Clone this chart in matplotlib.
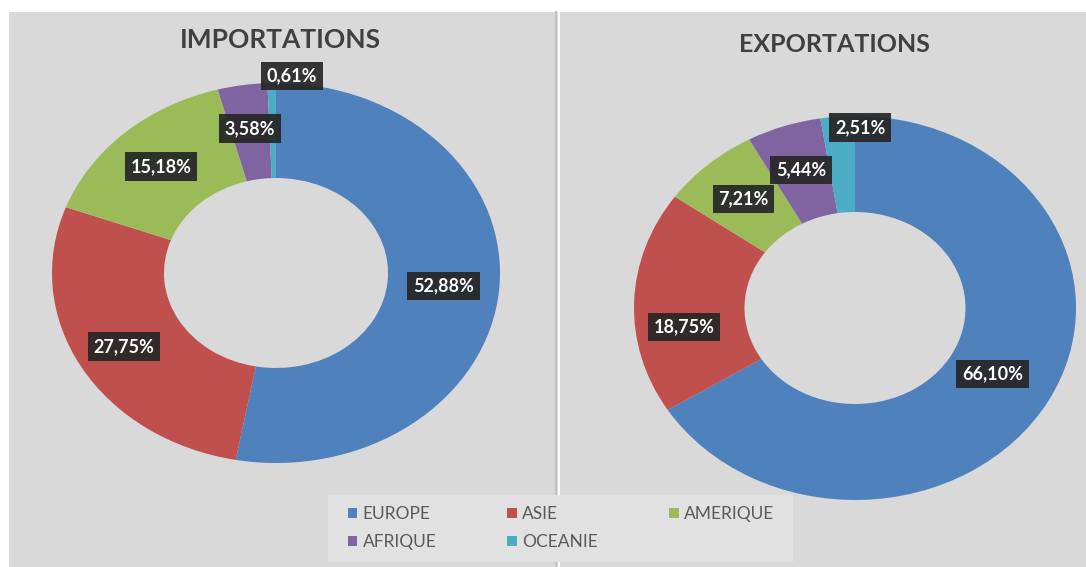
import matplotlib.pyplot as plt
from matplotlib.patches import Patch, Rectangle
from matplotlib.lines import Line2D
import numpy as np

# données (%)
regions = ["EUROPE", "ASIE", "AMERIQUE", "AFRIQUE", "OCEANIE"]
importations = [52.88, 27.75, 15.18, 3.58, 0.61]
exportations = [66.10, 18.75, 7.21, 5.44, 2.51]
colors = ["#4f81bd", "#c0504d", "#9bbb59", "#8064a2", "#4bacc6"]

W, H = 1086, 567
BG = "#d9d9d9"
FONT = "Lato"

fig = plt.figure(figsize=(W / 100, H / 100), dpi=100, facecolor="white")

# fond gris + séparateur entre les deux graphiques
fig.add_artist(Rectangle((9 / W, 0), 1, 1 - 12 / H, transform=fig.transFigure,
                         facecolor=BG, edgecolor="none", zorder=-3))
fig.add_artist(Line2D([556 / W, 556 / W], [0, 1 - 12 / H], transform=fig.transFigure,
                      color="#c2c2c2", lw=1.6, zorder=-2))
fig.add_artist(Line2D([558.5 / W, 558.5 / W], [0, 1 - 12 / H], transform=fig.transFigure,
                      color="white", lw=1.3, zorder=-2))


def donut(cx, cy, rx, ry, values, radii, nudges):
    ax = fig.add_axes([(cx - rx) / W, 1 - (cy + ry) / H, 2 * rx / W, 2 * ry / H])
    wedges, _ = ax.pie(values, colors=colors, startangle=90, counterclock=False,
                       radius=1, wedgeprops=dict(width=0.5, linewidth=0))
    ax.set_aspect("auto")
    ax.set_xlim(-1, 1)
    ax.set_ylim(-1, 1)
    ax.axis("off")
    for w, v, r, dt in zip(wedges, values, radii, nudges):
        a = np.deg2rad((w.theta1 + w.theta2) / 2 + dt)
        txt = ("%.2f%%" % v).replace(".", ",")
        ax.text(r * np.cos(a), r * np.sin(a), txt, ha="center", va="center",
                color="white", fontsize=13, fontweight="bold", family=FONT,
                bbox=dict(boxstyle="square,pad=0.32", fc="#262626", ec="none", alpha=0.92),
                zorder=5)
    return ax


donut(276, 273, 224, 190, importations,
      [0.75, 0.78, 0.76, 0.77, 1.04], [0, 0, 0, 0, -5])
donut(855, 308, 221, 192, exportations,
      [0.71, 0.78, 0.76, 0.76, 0.94], [0, 9, 0, 0, -6])

fig.text(280 / W, 1 - 40 / H, "IMPORTATIONS", ha="center", va="center",
         fontsize=19, fontweight="bold", color="#404040", family=FONT)
fig.text(834 / W, 1 - 45 / H, "EXPORTATIONS", ha="center", va="center",
         fontsize=18, fontweight="bold", color="#404040", family=FONT)

# cadre de la légende (sous les anneaux)
fig.add_artist(Rectangle((328 / W, 1 - 562 / H), 465 / W, 67 / H, transform=fig.transFigure,
                         facecolor="#e1e1e1", edgecolor="none", zorder=-1))

# légende (ordre colonne par colonne pour obtenir 3 + 2 en lignes)
order = [0, 3, 1, 4, 2]
handles = [Patch(facecolor=colors[i], edgecolor="none") for i in order]
labels = [regions[i] for i in order]
leg = fig.legend(handles, labels, ncol=3, loc="center",
                 bbox_to_anchor=(561 / W, 1 - 528 / H),
                 frameon=False, prop=dict(family=FONT, size=12.5),
                 handlelength=0.55, handleheight=0.55, handletextpad=0.3,
                 columnspacing=4.1, labelspacing=0.7, borderpad=0.6)
leg.set_zorder(3)
for t in leg.get_texts():
    t.set_color("#595959")

fig.savefig("out.png", dpi=100, facecolor=fig.get_facecolor())
